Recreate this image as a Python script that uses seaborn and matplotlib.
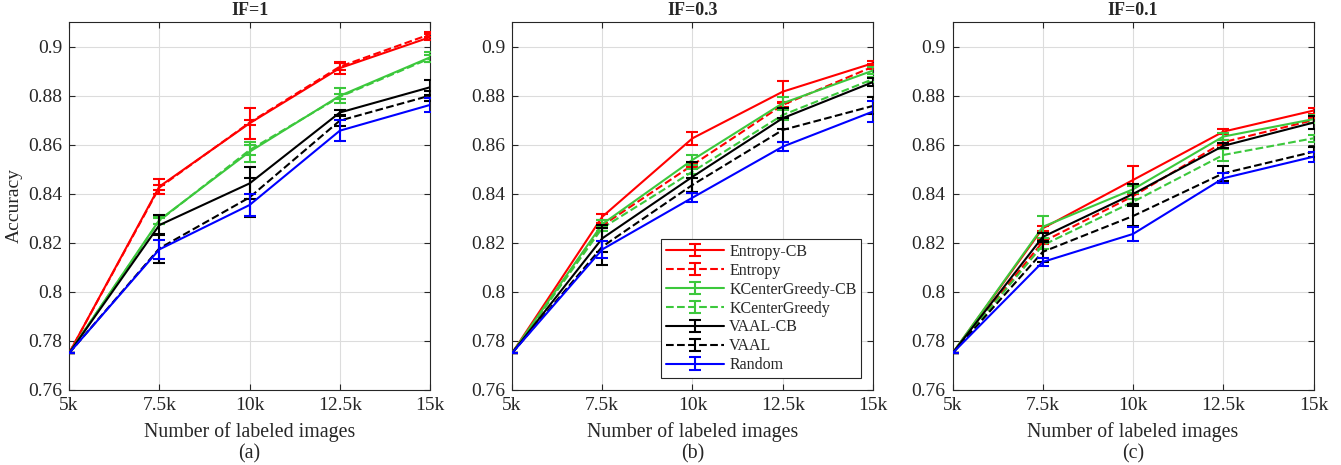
import numpy as np
import pandas as pd
import matplotlib
matplotlib.use("Agg")
import matplotlib.pyplot as plt
import seaborn as sns
from matplotlib.container import ErrorbarContainer
from matplotlib.legend_handler import HandlerTuple, HandlerErrorbar

# labeled set sizes
sizes = [5000, 7500, 10000, 12500, 15000]
size_labels = ["5k", "7.5k", "10k", "12.5k", "15k"]

methods = ["Entropy-CB", "Entropy", "KCenterGreedy-CB", "KCenterGreedy",
           "VAAL-CB", "VAAL", "Random"]
panel_titles = ["IF=1", "IF=0.3", "IF=0.1"]
panel_tags = ["(a)", "(b)", "(c)"]

# mean accuracy per method, one dict per panel (IF=1, IF=0.3, IF=0.1)
acc_if1 = {
    "Entropy-CB":       [0.775, 0.8429, 0.8687, 0.8912, 0.9038],
    "Entropy":          [0.775, 0.8425, 0.8690, 0.8918, 0.9050],
    "KCenterGreedy-CB": [0.775, 0.8293, 0.8571, 0.8799, 0.8956],
    "KCenterGreedy":    [0.775, 0.8290, 0.8578, 0.8795, 0.8952],
    "VAAL-CB":          [0.775, 0.8272, 0.8442, 0.8731, 0.8834],
    "VAAL":             [0.775, 0.8177, 0.8385, 0.8698, 0.8800],
    "Random":           [0.775, 0.8173, 0.8354, 0.8657, 0.8762],
}
acc_if03 = {
    "Entropy-CB":       [0.775, 0.8306, 0.8626, 0.8816, 0.8932],
    "Entropy":          [0.775, 0.8270, 0.8517, 0.8762, 0.8918],
    "KCenterGreedy-CB": [0.775, 0.8276, 0.8538, 0.8769, 0.8902],
    "KCenterGreedy":    [0.775, 0.8260, 0.8490, 0.8721, 0.8867],
    "VAAL-CB":          [0.775, 0.8218, 0.8469, 0.8708, 0.8855],
    "VAAL":             [0.775, 0.8184, 0.8436, 0.8660, 0.8758],
    "Random":           [0.775, 0.8173, 0.8384, 0.8592, 0.8735],
}
acc_if01 = {
    "Entropy-CB":       [0.775, 0.8259, 0.8456, 0.8653, 0.8739],
    "Entropy":          [0.775, 0.8204, 0.8390, 0.8610, 0.8700],
    "KCenterGreedy-CB": [0.775, 0.8265, 0.8418, 0.8633, 0.8704],
    "KCenterGreedy":    [0.775, 0.8190, 0.8367, 0.8558, 0.8626],
    "VAAL-CB":          [0.775, 0.8224, 0.8399, 0.8595, 0.8690],
    "VAAL":             [0.775, 0.8163, 0.8309, 0.8483, 0.8571],
    "Random":           [0.775, 0.8122, 0.8236, 0.8463, 0.8551],
}

# error bar half-widths
err_if1 = {
    "Entropy-CB":       [0.0, 0.0030, 0.0064, 0.0024, 0.0012],
    "Entropy":          [0.0, 0.0010, 0.0010, 0.0015, 0.0010],
    "KCenterGreedy-CB": [0.0, 0.0015, 0.0040, 0.0030, 0.0020],
    "KCenterGreedy":    [0.0, 0.0012, 0.0020, 0.0010, 0.0015],
    "VAAL-CB":          [0.0, 0.0040, 0.0065, 0.0010, 0.0030],
    "VAAL":             [0.0, 0.0060, 0.0080, 0.0020, 0.0020],
    "Random":           [0.0, 0.0038, 0.0045, 0.0044, 0.0030],
}
err_if03 = {
    "Entropy-CB":       [0.0, 0.0013, 0.0027, 0.0045, 0.0010],
    "Entropy":          [0.0, 0.0010, 0.0010, 0.0010, 0.0010],
    "KCenterGreedy-CB": [0.0, 0.0015, 0.0020, 0.0025, 0.0015],
    "KCenterGreedy":    [0.0, 0.0010, 0.0010, 0.0020, 0.0010],
    "VAAL-CB":          [0.0, 0.0055, 0.0062, 0.0043, 0.0015],
    "VAAL":             [0.0, 0.0075, 0.0030, 0.0050, 0.0035],
    "Random":           [0.0, 0.0035, 0.0017, 0.0017, 0.0043],
}
err_if01 = {
    "Entropy-CB":       [0.0, 0.0010, 0.0056, 0.0010, 0.0012],
    "Entropy":          [0.0, 0.0010, 0.0010, 0.0010, 0.0010],
    "KCenterGreedy-CB": [0.0, 0.0046, 0.0015, 0.0015, 0.0015],
    "KCenterGreedy":    [0.0, 0.0015, 0.0010, 0.0024, 0.0015],
    "VAAL-CB":          [0.0, 0.0015, 0.0040, 0.0010, 0.0027],
    "VAAL":             [0.0, 0.0040, 0.0040, 0.0030, 0.0020],
    "Random":           [0.0, 0.0015, 0.0030, 0.0020, 0.0020],
}

colors = {"Entropy-CB": "#ff0000", "Entropy": "#ff0000",
          "KCenterGreedy-CB": "#3cc83c", "KCenterGreedy": "#3cc83c",
          "VAAL-CB": "#000000", "VAAL": "#000000",
          "Random": "#0000ff"}
dashed = {"Entropy", "KCenterGreedy", "VAAL"}

sns.set_theme(style="whitegrid")
serif = ["Liberation Serif", "DejaVu Serif"]
plt.rcParams["font.family"] = serif

fig = plt.figure(figsize=(13.41, 4.65), dpi=100)
lefts = [0.0515, 0.3818, 0.7103]
axes = [fig.add_axes([l, 0.1613, 0.2692, 0.7914]) for l in lefts]

accs = [acc_if1, acc_if03, acc_if01]
errs = [err_if1, err_if03, err_if01]
dark = "#262626"

legend_handles = []
for i, ax in enumerate(axes):
    rows = []
    for m in methods:
        for s, v in zip(sizes, accs[i][m]):
            rows.append({"size": s, "acc": v, "method": m})
    df = pd.DataFrame(rows)
    for m in methods:
        sub = df[df["method"] == m]
        ls = "--" if m in dashed else "-"
        sns.lineplot(data=sub, x="size", y="acc", ax=ax, color=colors[m],
                     linewidth=1.5, linestyle=ls, legend=False, zorder=3)
        eb = ax.errorbar(sizes, accs[i][m], yerr=errs[i][m], fmt="none",
                         ecolor=colors[m], elinewidth=1.5, capsize=4.3,
                         capthick=1.5, zorder=3)
        if i == 1:
            h = plt.Line2D([], [], color=colors[m], linestyle=ls, linewidth=1.5)
            legend_handles.append((h, eb))

    ax.set_xlim(5000, 15000)
    ax.set_ylim(0.76, 0.91)
    ax.set_xticks(sizes)
    ax.set_xticklabels(size_labels, fontfamily=serif)
    yt = [0.76, 0.78, 0.80, 0.82, 0.84, 0.86, 0.88, 0.90]
    ax.set_yticks(yt)
    ax.set_yticklabels(["0.76", "0.78", "0.8", "0.82", "0.84", "0.86", "0.88", "0.9"],
                       fontfamily=serif)
    ax.tick_params(axis="both", which="both", direction="in", length=4,
                   width=0.8, color=dark, labelsize=14, pad=5,
                   top=True, right=True, bottom=True, left=True,
                   labelcolor=dark)
    ax.grid(True, color="#dcdcdc", linewidth=0.8)
    for sp in ax.spines.values():
        sp.set_color(dark)
        sp.set_linewidth(0.8)
        sp.set_visible(True)
    ax.set_facecolor("white")
    ax.set_xlabel("Number of labeled images\n" + panel_tags[i], fontsize=14.3,
                  color=dark, labelpad=6, linespacing=1.15)
    ax.set_ylabel("Accuracy" if i == 0 else "", fontsize=14, color=dark,
                  labelpad=4)
    ax.set_title(panel_titles[i], fontsize=13, fontweight="bold",
                 color=dark, pad=5)

leg = axes[1].legend(legend_handles, methods,
                     handler_map={tuple: HandlerTuple(ndivide=1),
                                  ErrorbarContainer: HandlerErrorbar(yerr_size=0.38)},
                     loc="upper left", bbox_to_anchor=(0.4135, 0.41),
                     borderaxespad=0, fontsize=11.5, frameon=True,
                     fancybox=False, edgecolor=dark, framealpha=1,
                     handlelength=3.6, handletextpad=0.35, labelspacing=0.18,
                     borderpad=0.3)
leg.get_frame().set_linewidth(0.8)

fig.savefig("out.png", dpi=100)
